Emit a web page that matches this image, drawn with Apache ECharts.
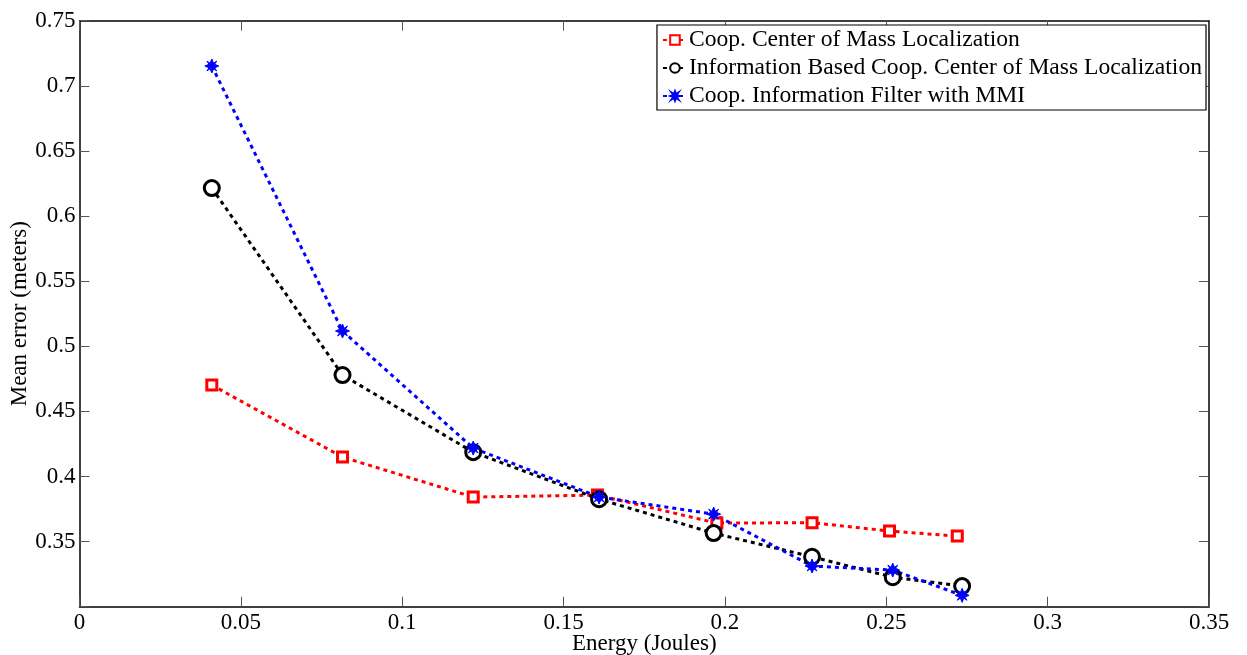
<!DOCTYPE html>
<html><head><meta charset="utf-8">
<script src="https://cdn.jsdelivr.net/npm/echarts@6/dist/echarts.min.js"></script>
<style>html,body{margin:0;padding:0;background:#fff}#c{width:1247px;height:655px}</style>
</head><body><div id="c"></div>
<script>
const seriesNames = ['Coop. Center of Mass Localization','Information Based Coop. Center of Mass Localization','Coop. Information Filter with MMI'];
const redX = [0.041,0.0815,0.122,0.1605,0.1975,0.227,0.251,0.272];
const redY = [0.4702,0.4149,0.3842,0.3857,0.3642,0.3645,0.3581,0.3542];
const blackX = [0.041,0.0815,0.122,0.161,0.1965,0.227,0.252,0.2735];
const blackY = [0.6215,0.4779,0.4187,0.3826,0.3565,0.3383,0.3227,0.3158];
const blueX = [0.041,0.0815,0.122,0.161,0.1965,0.227,0.252,0.2735];
const blueY = [0.7152,0.5117,0.4218,0.3842,0.3711,0.3312,0.3281,0.3087];
const xTicks = [0,0.05,0.1,0.15,0.2,0.25,0.3,0.35];
const yTicks = [0.35,0.4,0.45,0.5,0.55,0.6,0.65,0.7,0.75];

const pair = (xs, ys) => xs.map((x,i)=>[x, ys[i]]);
const font = 'Liberation Serif';
const star = 'path://M0,-10 L2.5,-4 L7,-7 L4,-2.5 L10,0 L4,2.5 L7,7 L2.5,4 L0,10 L-2.5,4 L-7,7 L-4,2.5 L-10,0 L-4,-2.5 L-7,-7 L-2.5,-4 Z';

const chart = echarts.init(document.getElementById('c'), null, {renderer:'canvas'});
const axisCommon = {
  axisLine:{show:true, onZero:false, lineStyle:{color:'#000', width:1.5}},
  axisTick:{show:true, inside:true, length:10, lineStyle:{color:'#555', width:1}},
  splitLine:{show:false}
};
chart.setOption({
  animation:false,
  backgroundColor:'#fff',
  grid:{left:79.5, right:38, top:20.7, bottom:48.3, containLabel:false, outerBoundsMode:'none'},
  xAxis:[
    Object.assign({type:'value', min:0, max:0.35, interval:0.05, position:'bottom',
      name:'Energy (Joules)', nameLocation:'middle', nameGap:26, nameMoveOverlap:false,
      nameTextStyle:{fontFamily:font, fontSize:23, color:'#000'},
      axisLabel:{fontFamily:font, fontSize:23, color:'#000', margin:5,
        formatter:v=>{const t=xTicks.find(k=>Math.abs(k-v)<1e-9); return t===undefined?'':String(+t.toFixed(2));}}
    }, axisCommon),
    Object.assign({type:'value', min:0, max:0.35, interval:0.05, position:'top', axisLabel:{show:false}}, axisCommon)
  ],
  yAxis:[
    Object.assign({type:'value', min:0.3, max:0.75, interval:0.05, position:'left',
      name:'Mean error (meters)', nameLocation:'middle', nameGap:48, nameRotate:90, nameMoveOverlap:false,
      nameTextStyle:{fontFamily:font, fontSize:23, color:'#000'},
      axisLabel:{fontFamily:font, fontSize:23, color:'#000', margin:4,
        formatter:v=>{const t=yTicks.find(k=>Math.abs(k-v)<1e-9); return t===undefined?'':String(+t.toFixed(2));}}
    }, axisCommon),
    Object.assign({type:'value', min:0.3, max:0.75, interval:0.05, position:'right', axisLabel:{show:false}}, axisCommon)
  ],
  legend:{
    show:true, right:41, top:25, orient:'vertical', itemGap:4,
    backgroundColor:'#fff', borderColor:'#000', borderWidth:1.2, borderRadius:0,
    padding:[3,4,2,5], itemWidth:24, itemHeight:12,
    textStyle:{fontFamily:font, fontSize:23.6, color:'#000', padding:[0,0,0,-3]},
    data:seriesNames
  },
  series:[
    {name:seriesNames[0], type:'line', data:pair(redX,redY), symbol:'rect', symbolSize:10,
      lineStyle:{color:'#ff0000', width:3, type:[4,4]},
      itemStyle:{color:'#fff', borderColor:'#ff0000', borderWidth:3}},
    {name:seriesNames[1], type:'line', data:pair(blackX,blackY), symbol:'circle', symbolSize:15,
      lineStyle:{color:'#000', width:3, type:[4,4]},
      itemStyle:{color:'#fff', borderColor:'#000', borderWidth:3}},
    {name:seriesNames[2], type:'line', data:pair(blueX,blueY), symbol:star, symbolSize:14,
      lineStyle:{color:'#0000ff', width:3, type:[4,4]},
      itemStyle:{color:'#0000ff', borderColor:'#0000ff', borderWidth:1}}
  ]
});
</script></body></html>
